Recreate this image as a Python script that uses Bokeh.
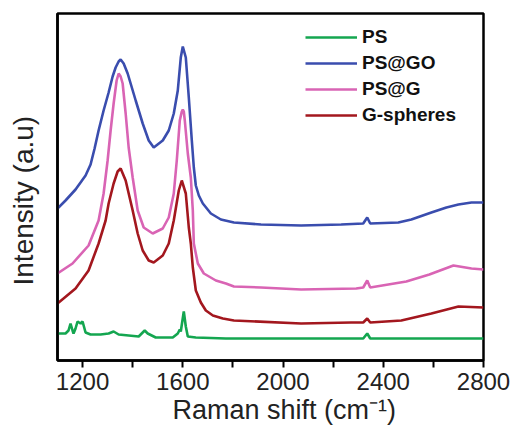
from bokeh.plotting import figure
from bokeh.models import Range1d, FixedTicker, Legend, LegendItem, Title
from bokeh.embed import file_html
from bokeh.resources import INLINE

# ---- data (Raman shift in cm^-1, intensity in arbitrary units) ----
x_ps = [1100, 1132, 1144, 1152, 1160, 1164, 1172, 1180, 1192, 1200, 1212, 1232, 1272,
        1304, 1324, 1344, 1384, 1424, 1436, 1448, 1460, 1492, 1560, 1580, 1588, 1592,
        1604, 1612, 1620, 1652, 1772, 2072, 2320, 2336, 2348, 2800]
y_ps = [27, 27, 30, 37, 30, 27, 32, 39, 37, 39, 28, 26, 26,
        27, 29, 26, 25, 24, 27, 30, 27, 23, 23, 27, 31, 29,
        49, 34, 24, 23, 22, 22, 22, 27, 22, 22]

x_psgo = [1100, 1132, 1172, 1212, 1232, 1248, 1264, 1284, 1304, 1320, 1332, 1344, 1352,
          1364, 1380, 1412, 1440, 1464, 1484, 1520, 1544, 1564, 1580, 1592, 1600, 1612,
          1624, 1636, 1644, 1652, 1664, 1680, 1712, 1752, 1804, 1912, 2072, 2232, 2320,
          2336, 2348, 2460, 2512, 2592, 2652, 2700, 2752, 2800]
y_psgo = [152, 160, 171, 185, 196, 212, 230, 250, 268, 284, 293, 299, 301,
          297, 287, 260, 237, 220, 213, 220, 230, 247, 270, 303, 314, 303,
          263, 220, 193, 175, 165, 157, 147, 141, 138, 136, 135, 136, 137,
          143, 137, 138, 141, 148, 153, 156, 158, 158]

x_psg = [1100, 1160, 1224, 1264, 1284, 1300, 1312, 1324, 1336, 1344, 1352, 1360, 1372,
         1384, 1400, 1420, 1444, 1480, 1520, 1544, 1564, 1576, 1588, 1596, 1600, 1604,
         1608, 1620, 1632, 1640, 1644, 1660, 1684, 1732, 1772, 1804, 1912, 2072, 2292,
         2320, 2336, 2348, 2492, 2584, 2680, 2752, 2800]
y_psg = [87, 97, 115, 140, 167, 200, 230, 257, 280, 287, 284, 277, 247,
         213, 183, 150, 133, 127, 132, 143, 167, 200, 240, 249, 251, 249,
         240, 207, 183, 150, 117, 97, 87, 80, 77, 74, 73, 71, 72,
         73, 80, 73, 79, 86, 95, 92, 91]

x_gs = [1100, 1172, 1224, 1264, 1292, 1304, 1324, 1340, 1352, 1372, 1400, 1420, 1440,
        1464, 1484, 1520, 1544, 1564, 1584, 1596, 1612, 1624, 1632, 1640, 1652, 1672,
        1692, 1720, 1760, 1804, 2072, 2272, 2320, 2336, 2348, 2472, 2592, 2700, 2800]
y_gs = [57, 72, 90, 117, 140, 157, 177, 189, 192, 180, 150, 127, 110,
        100, 98, 105, 117, 140, 170, 180, 167, 133, 117, 93, 70, 58,
        50, 45, 42, 40, 37, 38, 38, 42, 38, 40, 47, 54, 53]

series_names = ["PS", "PS@GO", "PS@G", "G-spheres"]
series_colors = ["#14a650", "#3a4dae", "#d964b4", "#a3171e"]

x_ticks = [1200, 1600, 2000, 2400, 2800]
x_minor = [1400, 1800, 2200, 2600]
x_title = "Raman shift (cm\u207b\u00b9)"
y_title = "Intensity (a.u)"

FONT = "Liberation Sans"

p = figure(width=515, height=430, output_backend="svg", toolbar_location=None,
           x_range=Range1d(1100, 2800), y_range=Range1d(0, 347),
           min_border_left=57, min_border_right=32, min_border_top=13,
           min_border_bottom=70)
p.grid.visible = False
p.background_fill_color = "white"
p.border_fill_color = "white"
p.outline_line_color = "black"
p.outline_line_width = 2.5

data = [(x_ps, y_ps), (x_psgo, y_psgo), (x_psg, y_psg), (x_gs, y_gs)]
renderers = []
for (xs, ys), c in zip(data, series_colors):
    renderers.append(p.line(xs, ys, line_color=c, line_width=2.6))

# x axis
xa = p.xaxis[0]
xa.ticker = FixedTicker(ticks=x_ticks, minor_ticks=x_minor)
xa.axis_line_width = 2.5
xa.major_tick_out = 7
xa.major_tick_in = 0
xa.minor_tick_out = 7
xa.minor_tick_in = 0
xa.major_tick_line_width = 2
xa.minor_tick_line_width = 2
xa.major_label_text_font = FONT
xa.major_label_text_font_size = "24px"
xa.major_label_text_color = "#222222"
xa.major_label_standoff = 5

# y axis: plain line; one hidden tick only reserves room for the title
ya = p.yaxis[0]
ya.ticker = FixedTicker(ticks=[0])
ya.major_label_overrides = {0: ""}
ya.major_label_standoff = 0
ya.axis_line_width = 2.5
ya.major_tick_line_color = None
ya.major_tick_out = 19
ya.major_tick_in = 0
ya.minor_tick_out = 0
ya.minor_tick_in = 0

# axis titles
p.add_layout(Title(text=x_title, align="left", offset=115, standoff=0,
                   text_font=FONT, text_font_size="27px", text_font_style="normal",
                   text_color="#222222"), "below")
p.add_layout(Title(text=y_title, align="left", offset=75, standoff=0,
                   text_font=FONT, text_font_size="28px", text_font_style="normal",
                   text_color="#222222"), "left")

legend = Legend(items=[LegendItem(label=n, renderers=[r])
                       for n, r in zip(series_names, renderers)],
                location=(248, 232))
legend.border_line_color = None
legend.background_fill_alpha = 0
legend.padding = 0
legend.spacing = 0
legend.margin = 0
legend.glyph_width = 52
legend.glyph_height = 26
legend.label_height = 26
legend.label_standoff = 5
legend.label_text_font = FONT
legend.label_text_font_style = "bold"
legend.label_text_font_size = "19px"
legend.label_text_color = "#111111"
p.add_layout(legend)

open("out.html", "w").write(file_html(p, INLINE))
